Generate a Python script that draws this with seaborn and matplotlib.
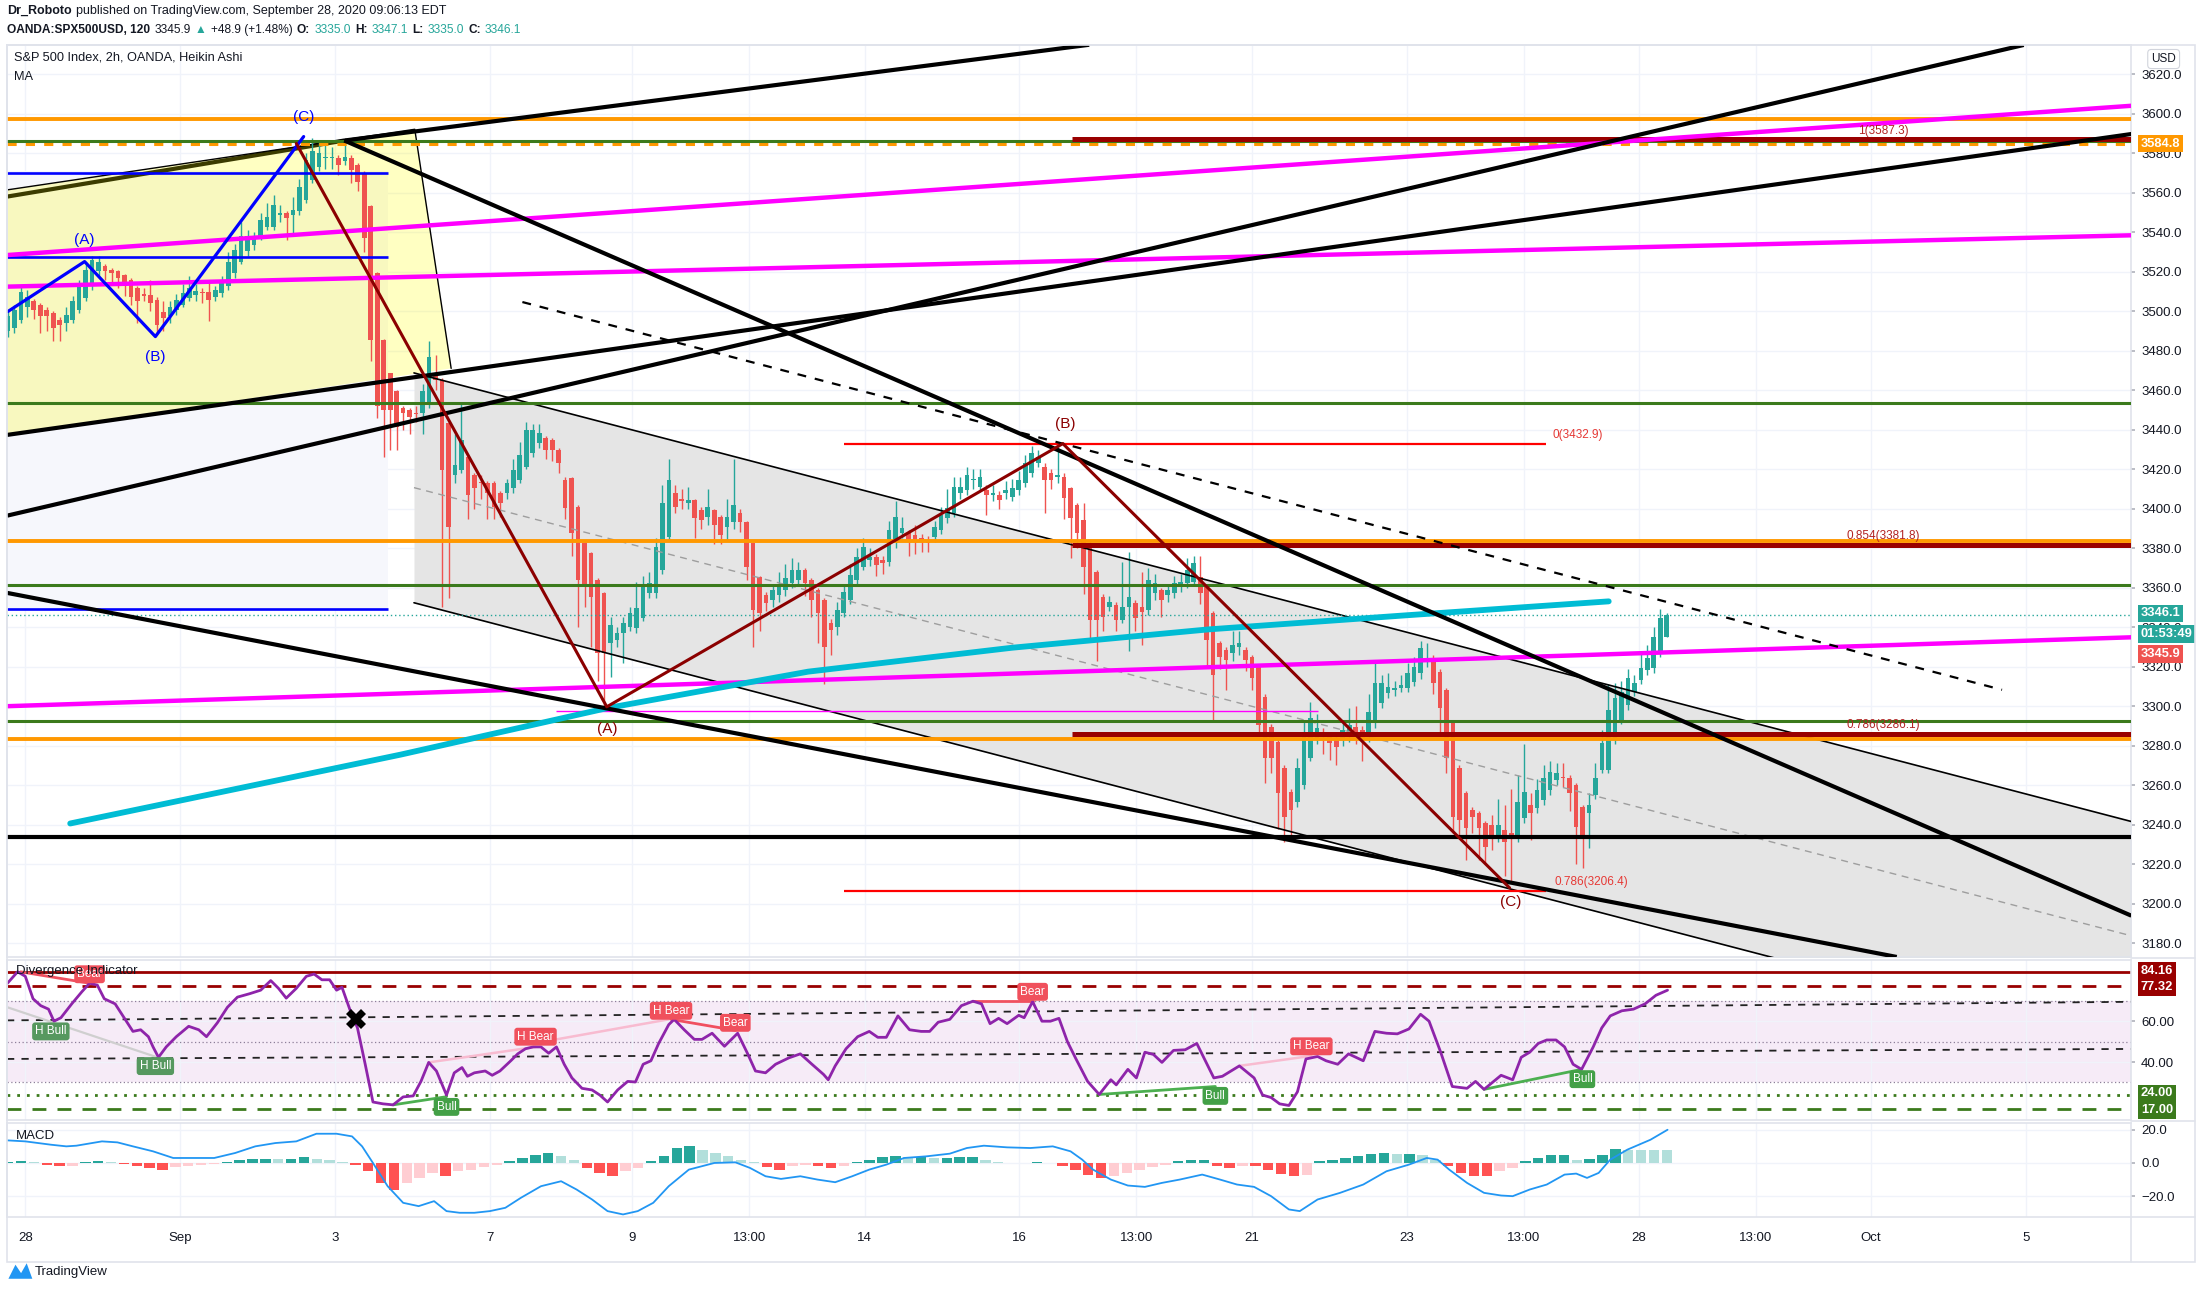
import numpy as np
import matplotlib
matplotlib.use("Agg")
import matplotlib.pyplot as plt
from matplotlib.lines import Line2D
from matplotlib.patches import Rectangle, Polygon
import seaborn as sns

# ---------------- values ----------------
# x unit = trading days, 0 = start of Aug 28 session

# Heikin Ashi candles (2h bars), left edge -> Sep 28 09:00
ha_open = [
    3489.8, 3491.5, 3495.6, 3502.4, 3505.0, 3503.3, 3500.7, 3499.0, 3495.6, 3494.0,
    3495.6, 3500.7, 3506.6, 3513.4, 3520.2, 3522.7, 3521.0, 3520.2, 3518.5, 3515.9,
    3511.7, 3508.3, 3508.3, 3505.8, 3499.9, 3497.4, 3500.7, 3503.3, 3506.6, 3508.3,
    3510.0, 3510.0, 3507.5, 3509.2, 3512.6, 3519.3, 3525.2, 3530.3, 3533.7, 3537.9,
    3542.9, 3542.9, 3548.9, 3549.7, 3548.9, 3550.6, 3556.5, 3566.6, 3573.3, 3577.5,
    3577.5, 3577.5, 3575.9, 3577.5, 3574.2, 3570.0, 3553.1, 3519.3, 3485.5, 3468.6,
    3459.4, 3450.9, 3450.0, 3448.3, 3448.3, 3453.4, 3468.6, 3465.2, 3443.2, 3417.2,
    3419.7, 3426.4, 3417.2, 3413.8,
    3412.9, 3412.9, 3407.8, 3407.8, 3410.3, 3414.5, 3421.3, 3428.1, 3433.1, 3435.6,
    3434.8, 3429.7, 3414.5, 3415.4, 3401.0, 3382.5, 3377.4, 3363.9, 3357.1, 3331.8,
    3333.5, 3336.9, 3340.2, 3339.4, 3344.5, 3357.1, 3357.1, 3368.9, 3385.8, 3407.8,
    3404.1, 3402.7, 3404.4, 3399.3, 3396.0, 3399.3, 3396.0, 3390.9, 3393.4, 3397.7,
    3393.4, 3382.5, 3365.6, 3356.3, 3353.8, 3356.3, 3358.8, 3362.2, 3363.9, 3368.9,
    3363.9, 3358.8, 3353.8, 3341.9, 3340.2, 3347.0, 3353.8, 3363.9, 3370.6, 3374.0,
    3375.7, 3374.0, 3373.2, 3382.5, 3387.5, 3387.5, 3386.7, 3385.0, 3384.1, 3385.8,
    3389.2, 3395.1, 3397.7, 3407.8, 3409.5, 3414.5, 3411.2, 3409.5, 3406.9, 3406.9,
    3407.8, 3406.1, 3409.5, 3412.9, 3417.9, 3423.0, 3421.3, 3417.9, 3416.2, 3416.2,
    3410.3, 3401.9,
    3394.3, 3382.5, 3368.2, 3355.5, 3350.4, 3351.3, 3343.7, 3350.4, 3352.1, 3350.4,
    3348.7, 3357.2, 3358.9, 3356.3, 3357.2, 3360.6, 3362.3, 3363.1, 3365.6, 3360.6,
    3347.1, 3331.9, 3328.5, 3326.8, 3330.2, 3328.5, 3325.1, 3320.0, 3304.8, 3289.6,
    3282.0, 3268.5, 3256.7, 3251.7, 3260.1, 3273.6, 3283.7, 3287.1, 3285.4, 3282.9,
    3282.9, 3284.6, 3289.6, 3287.9, 3284.6, 3291.3, 3301.5, 3306.5, 3308.2, 3309.1,
    3309.1, 3312.4, 3316.7, 3323.4, 3323.4, 3317.5, 3308.2, 3291.3, 3268.5, 3255.9,
    3247.4, 3245.7, 3240.7, 3239.8, 3233.1, 3237.3, 3235.6, 3233.1, 3243.2, 3250.0,
    3248.3, 3252.5, 3257.6, 3262.6, 3264.3, 3263.5, 3260.1, 3249.1, 3245.7, 3255.0,
    3267.7, 3267.7, 3282.9, 3293.0, 3300.6, 3307.4, 3313.3, 3318.4, 3319.2, 3326.8,
    3335.0,
]
ha_close = [
    3497.4, 3500.7, 3510.0, 3507.5, 3500.7, 3497.4, 3497.4, 3491.5, 3493.2, 3498.2,
    3505.0, 3514.3, 3521.0, 3526.0, 3525.2, 3520.2, 3519.3, 3516.8, 3512.6, 3507.5,
    3505.0, 3508.0, 3504.1, 3493.2, 3496.5, 3502.4, 3505.8, 3509.2, 3511.7, 3510.5,
    3509.2, 3505.8, 3510.9, 3515.9, 3525.2, 3531.1, 3537.9, 3537.9, 3537.9, 3546.3,
    3548.0, 3553.9, 3549.7, 3547.2, 3551.4, 3563.2, 3576.7, 3581.0, 3580.1, 3578.4,
    3578.4, 3574.2, 3578.4, 3571.7, 3565.7, 3537.0, 3485.5, 3451.8, 3450.0, 3450.0,
    3441.6, 3448.3, 3446.6, 3448.0, 3459.4, 3477.0, 3465.2, 3419.7, 3391.0, 3422.1,
    3434.9, 3406.9, 3410.3, 3413.0,
    3407.8, 3401.0, 3402.7, 3412.9, 3419.6, 3427.2, 3439.9, 3439.9, 3438.2, 3429.7,
    3429.7, 3423.0, 3400.2, 3387.5, 3363.9, 3360.5, 3355.4, 3326.7, 3326.7, 3341.1,
    3336.9, 3341.9, 3347.0, 3349.5, 3360.5, 3362.2, 3380.8, 3402.7, 3414.5, 3401.0,
    3404.0, 3404.4, 3395.1, 3394.3, 3401.0, 3391.7, 3386.7, 3396.0, 3401.9, 3393.4,
    3370.6, 3348.7, 3347.0, 3352.1, 3358.8, 3361.4, 3364.7, 3368.9, 3368.9, 3362.2,
    3353.8, 3347.0, 3330.1, 3338.6, 3348.7, 3358.0, 3366.4, 3375.7, 3380.8, 3375.7,
    3371.5, 3372.3, 3389.2, 3396.0, 3390.1, 3383.3, 3383.3, 3383.3, 3382.5, 3390.9,
    3396.8, 3400.2, 3411.2, 3411.2, 3417.1, 3414.6, 3416.2, 3406.9, 3407.8, 3404.4,
    3409.5, 3410.3, 3414.5, 3423.0, 3428.1, 3426.4, 3414.5, 3414.5, 3417.1, 3405.3,
    3395.1, 3387.5,
    3370.7, 3343.7, 3343.7, 3345.4, 3353.0, 3343.7, 3350.4, 3355.5, 3344.5, 3347.9,
    3363.9, 3362.3, 3353.8, 3358.9, 3362.3, 3363.1, 3369.0, 3372.4, 3357.2, 3333.5,
    3315.8, 3325.1, 3323.4, 3331.0, 3331.9, 3323.4, 3314.1, 3290.5, 3273.6, 3273.6,
    3255.9, 3244.1, 3247.4, 3268.5, 3287.1, 3293.9, 3288.8, 3285.4, 3281.2, 3279.5,
    3287.9, 3290.5, 3286.3, 3282.9, 3297.2, 3311.6, 3311.6, 3309.9, 3309.1, 3310.8,
    3316.7, 3320.0, 3329.3, 3324.3, 3311.6, 3298.9, 3273.6, 3244.1, 3242.4, 3238.1,
    3244.1, 3238.1, 3228.9, 3233.1, 3239.8, 3231.4, 3233.1, 3251.7, 3256.7, 3245.7,
    3257.6, 3263.5, 3266.9, 3266.0, 3263.5, 3255.9, 3239.0, 3233.1, 3250.0, 3263.5,
    3281.2, 3298.1, 3304.0, 3307.4, 3314.1, 3311.6, 3319.2, 3324.3, 3335.2, 3344.5,
    3346.1,
]
ha_high = [
    3500, 3503, 3513, 3511, 3506, 3504, 3502, 3500, 3497, 3502,
    3508, 3516, 3525, 3528, 3528, 3524, 3522, 3521, 3519, 3517,
    3513, 3512, 3516, 3507, 3505, 3505, 3509, 3514, 3518, 3514,
    3512, 3515, 3513, 3518, 3530, 3534, 3545, 3541, 3540, 3550,
    3555, 3559, 3554, 3551, 3558, 3567, 3580, 3588, 3587, 3584,
    3583, 3579, 3585, 3579, 3575, 3571, 3554, 3520, 3486, 3469,
    3460, 3452, 3451, 3452, 3463, 3485, 3478, 3466, 3444, 3438,
    3454, 3427, 3418, 3417,
    3414, 3414, 3409, 3415, 3425, 3434, 3444, 3443, 3443, 3437,
    3436, 3431, 3416, 3416, 3402, 3383, 3378, 3365, 3358, 3345,
    3340, 3345, 3350, 3363, 3366, 3368, 3385, 3412, 3425, 3412,
    3410, 3411, 3405, 3401, 3410, 3400, 3397, 3405, 3425, 3400,
    3394, 3383, 3366, 3358, 3362, 3368, 3372, 3375, 3373, 3370,
    3365, 3360, 3355, 3344, 3353, 3362, 3372, 3380, 3385, 3380,
    3377, 3376, 3394, 3404, 3396, 3389, 3392, 3387, 3386, 3394,
    3401, 3410, 3416, 3416, 3421, 3420, 3420, 3412, 3412, 3409,
    3414, 3415, 3419, 3427, 3432, 3430, 3423, 3420, 3433, 3418,
    3411, 3403,
    3403, 3384, 3369, 3357, 3356, 3353, 3373, 3378, 3354, 3368,
    3370, 3367, 3360, 3362, 3366, 3367, 3375, 3376, 3376, 3361,
    3348, 3333, 3330, 3338, 3338, 3330, 3326, 3321, 3306, 3291,
    3283, 3270, 3258, 3274, 3292, 3302, 3296, 3289, 3287, 3285,
    3293, 3299, 3300, 3290, 3306, 3322, 3316, 3317, 3313, 3316,
    3322, 3325, 3333, 3332, 3326, 3319, 3309, 3292, 3270, 3257,
    3249, 3247, 3242, 3245, 3253, 3250, 3258, 3265, 3281, 3256,
    3263, 3270, 3272, 3271, 3271, 3265, 3261, 3250, 3256, 3271,
    3288, 3311, 3312, 3313, 3319, 3316, 3327, 3331, 3340, 3349,
    3347.1,
]
ha_low = [
    3487, 3489, 3494, 3497, 3496, 3489, 3490, 3485, 3485, 3490,
    3494, 3499, 3505, 3511, 3518, 3516, 3515, 3512, 3508, 3503,
    3494, 3505, 3500, 3489, 3490, 3494, 3498, 3502, 3505, 3505,
    3504, 3495, 3505, 3507, 3511, 3517, 3524, 3528, 3531, 3536,
    3541, 3541, 3545, 3536, 3539, 3549, 3555, 3565, 3571, 3572,
    3572, 3569, 3574, 3565, 3561, 3530, 3475, 3446, 3426, 3430,
    3430, 3440, 3438, 3444, 3438, 3451, 3460, 3350, 3355, 3413,
    3418, 3395, 3400, 3405,
    3395, 3395, 3396, 3405, 3408, 3413, 3420, 3426, 3431, 3425,
    3424, 3418, 3395, 3376, 3340, 3350, 3330, 3313, 3300, 3315,
    3330, 3322, 3338, 3337, 3343, 3355, 3355, 3367, 3384, 3398,
    3400, 3400, 3385, 3390, 3392, 3382, 3382, 3384, 3390, 3388,
    3364, 3330, 3338, 3348, 3350, 3353, 3356, 3360, 3361, 3356,
    3345, 3332, 3311, 3326, 3336, 3345, 3352, 3362, 3369, 3371,
    3366, 3367, 3371, 3380, 3385, 3376, 3377, 3378, 3378, 3383,
    3387, 3393, 3396, 3405, 3407, 3410, 3409, 3397, 3404, 3400,
    3405, 3404, 3407, 3411, 3416, 3421, 3398, 3410, 3413, 3395,
    3375, 3380,
    3357, 3333, 3323, 3338, 3348, 3338, 3342, 3328, 3338, 3331,
    3346, 3354, 3345, 3353, 3355, 3358, 3360, 3361, 3352, 3320,
    3293, 3319, 3308, 3323, 3326, 3318, 3308, 3285, 3261, 3266,
    3238, 3231, 3233, 3249, 3258, 3272, 3281, 3276, 3273, 3270,
    3280, 3282, 3281, 3272, 3282, 3289, 3299, 3304, 3305, 3307,
    3307, 3310, 3314, 3320, 3306, 3285, 3266, 3236, 3234, 3222,
    3236, 3222, 3220, 3227, 3231, 3214, 3211, 3231, 3241, 3232,
    3246, 3250, 3255, 3260, 3259, 3247, 3220, 3218, 3228, 3253,
    3266, 3266, 3281, 3291, 3298, 3305, 3311, 3316, 3317, 3325,
    3335,
]
first_bar_day, last_bar_day = -0.225, 21.2

# moving average (cyan)
ma_points = [(0.58, 3240.6), (4.85, 3275.5), (7.51, 3299.0), (10.11, 3317.5),
             (12.74, 3329.6), (15.28, 3338.9), (17.82, 3346.0), (20.45, 3353.1)]

# divergence indicator (RSI)
rsi_points = [
    (-0.23, 78.6), (-0.10, 84.2), (0.00, 82.0), (0.10, 71.0), (0.20, 67.6), (0.30, 65.9),
    (0.37, 60.0), (0.46, 61.7), (0.60, 68.5), (0.73, 74.4), (0.83, 78.6), (0.93, 77.7),
    (1.02, 71.0), (1.16, 68.5), (1.26, 62.6), (1.39, 55.0), (1.49, 55.8), (1.59, 52.4),
    (1.65, 47.4), (1.72, 42.3), (1.82, 47.4), (1.95, 52.4), (2.11, 57.5), (2.24, 55.8),
    (2.34, 52.4), (2.48, 59.2), (2.61, 66.8), (2.74, 71.8), (2.90, 73.5), (3.04, 75.2),
    (3.17, 79.9), (3.27, 76.1), (3.37, 71.3), (3.50, 76.1), (3.63, 82.0), (3.73, 83.1),
    (3.83, 80.3), (3.93, 80.3), (4.02, 75.2), (4.09, 76.6), (4.19, 65.9), (4.29, 56.7),
    (4.39, 38.9), (4.49, 20.4), (4.62, 19.5), (4.75, 19.0), (4.88, 22.9), (5.01, 23.4),
    (5.11, 30.5), (5.21, 39.8), (5.31, 35.6), (5.44, 23.8), (5.54, 34.7), (5.64, 37.3),
    (5.71, 33.0), (5.80, 34.7), (5.94, 35.6), (6.03, 33.5), (6.13, 35.6), (6.27, 40.6),
    (6.36, 44.0), (6.46, 46.5), (6.56, 47.4), (6.66, 47.4), (6.76, 44.3), (6.86, 47.4),
    (6.96, 38.9), (7.06, 32.2), (7.19, 27.1), (7.32, 26.3), (7.42, 23.8), (7.52, 20.4),
    (7.65, 26.3), (7.78, 30.5), (7.88, 30.2), (7.98, 38.9), (8.08, 40.6), (8.18, 49.1),
    (8.31, 58.3), (8.38, 60.9), (8.51, 55.8), (8.64, 51.1), (8.74, 51.1), (8.87, 54.1),
    (9.03, 47.7), (9.20, 54.1), (9.33, 44.0), (9.43, 35.6), (9.56, 34.7), (9.69, 38.9),
    (9.86, 42.0), (10.01, 44.0), (10.16, 38.9), (10.31, 33.9), (10.37, 31.3), (10.46, 38.1),
    (10.60, 46.5), (10.75, 52.4), (10.90, 55.0), (11.01, 52.1), (11.12, 52.1), (11.27, 62.6),
    (11.42, 55.8), (11.57, 55.0), (11.68, 55.0), (11.79, 59.5), (11.94, 60.9), (12.09, 67.6),
    (12.24, 69.8), (12.35, 68.5), (12.46, 58.8), (12.57, 61.4), (12.68, 58.8), (12.83, 62.9),
    (12.90, 61.7), (13.01, 69.6), (13.13, 60.0), (13.24, 60.0), (13.35, 61.4), (13.46, 49.9),
    (13.57, 41.5), (13.72, 30.5), (13.87, 24.1), (14.02, 31.3), (14.09, 28.8), (14.24, 36.4),
    (14.35, 32.2), (14.46, 44.8), (14.57, 43.7), (14.68, 39.8), (14.83, 45.7), (14.98, 46.0),
    (15.13, 49.1), (15.24, 40.6), (15.35, 32.2), (15.46, 33.0), (15.68, 38.1), (15.87, 32.2),
    (15.98, 23.8), (16.09, 22.6), (16.20, 19.5), (16.32, 18.7), (16.43, 25.4), (16.54, 41.5),
    (16.69, 42.7), (16.80, 40.6), (16.95, 38.9), (17.09, 44.0), (17.28, 40.6), (17.43, 55.0),
    (17.58, 54.1), (17.72, 53.8), (17.87, 56.2), (18.02, 63.4), (18.13, 60.0), (18.28, 44.8),
    (18.43, 28.0), (18.62, 27.1), (18.73, 30.5), (18.84, 26.6), (19.06, 33.5), (19.21, 31.3),
    (19.32, 42.3), (19.43, 44.8), (19.54, 49.1), (19.65, 50.8), (19.77, 50.8), (19.88, 47.4),
    (19.99, 38.9), (20.10, 36.4), (20.25, 47.4), (20.36, 56.7), (20.47, 62.6), (20.62, 65.1),
    (20.77, 65.9), (20.92, 68.5), (21.06, 72.7), (21.21, 75.2),
]
rsi_upper_line = (84.16, 77.32)
rsi_lower_line = (24.00, 17.00)
rsi_dashed_trends = [((-0.236, 60.4), (27.2, 69.5)), ((-0.236, 41.5), (27.2, 46.4))]
divergence_lines = [
    ("bear", -0.06, 84.2, 0.83, 78.6), ("hbull", -0.23, 66.8, 1.68, 42.6),
    ("bull", 4.75, 19.0, 5.44, 23.0), ("hbear", 5.21, 39.8, 6.59, 47.4),
    ("hbear", 6.86, 51.1, 8.31, 60.9), ("bear", 8.34, 60.9, 9.17, 55.5),
    ("bear", 12.24, 69.8, 13.01, 69.8), ("bull", 13.87, 24.1, 15.37, 28.0),
    ("hbear", 15.68, 38.1, 16.61, 43.0), ("bull", 18.84, 26.6, 20.10, 36.4),
]
divergence_labels = [
    ("Bear", 0.83, 83.0), ("H Bull", 0.33, 55.0), ("H Bull", 1.68, 38.0), ("Bull", 5.44, 18.0),
    ("H Bear", 6.59, 52.4), ("H Bear", 8.34, 65.1), ("Bear", 9.17, 59.2), ("Bear", 13.01, 74.4),
    ("Bull", 15.37, 23.4), ("H Bear", 16.61, 47.7), ("Bull", 20.11, 31.6),
]
cross_point = (4.27, 61.0)

# MACD
macd_points = [
    (-0.23, 13.6), (0.00, 13.0), (0.33, 11.0), (0.53, 10.0), (0.66, 10.4), (0.99, 13.0),
    (1.19, 12.4), (1.39, 10.0), (1.65, 7.0), (1.91, 3.0), (2.18, 3.0), (2.44, 3.0),
    (2.71, 6.0), (2.97, 10.0), (3.23, 12.0), (3.50, 13.0), (3.76, 17.6), (4.02, 17.6),
    (4.22, 16.0), (4.35, 10.0), (4.49, 0.0), (4.68, -14.0), (4.88, -24.0), (5.08, -26.0),
    (5.28, -23.0), (5.44, -29.0), (5.61, -30.0), (5.80, -30.0), (6.00, -29.0), (6.20, -27.0),
    (6.40, -21.0), (6.66, -14.0), (6.92, -11.0), (7.12, -16.0), (7.32, -22.0), (7.52, -29.0),
    (7.72, -31.0), (7.91, -29.0), (8.11, -24.0), (8.31, -14.0), (8.57, -4.0), (8.90, 0.0),
    (9.17, 0.4), (9.36, -3.0), (9.56, -8.0), (9.76, -9.6), (10.01, -8.0), (10.23, -10.0),
    (10.46, -11.6), (10.68, -8.0), (10.90, -4.0), (11.12, -1.0), (11.35, 3.0), (11.64, 4.0),
    (11.94, 5.6), (12.16, 9.0), (12.38, 10.4), (12.68, 9.4), (12.98, 9.0), (13.27, 10.0),
    (13.50, 7.0), (13.65, 2.0), (13.79, -4.0), (14.02, -10.0), (14.24, -13.6), (14.46, -14.4),
    (14.68, -12.0), (14.91, -10.0), (15.20, -7.0), (15.43, -10.0), (15.65, -13.0), (15.87, -14.4),
    (16.09, -20.0), (16.32, -28.0), (16.46, -29.0), (16.69, -22.0), (16.98, -18.0), (17.28, -13.0),
    (17.58, -5.0), (17.87, -1.0), (18.10, 3.0), (18.24, 2.0), (18.39, -4.0), (18.62, -12.0),
    (18.84, -18.0), (19.06, -19.6), (19.21, -20.0), (19.43, -16.0), (19.65, -13.0), (19.88, -7.0),
    (20.03, -6.4), (20.17, -9.0), (20.32, -6.0), (20.47, 2.0), (20.69, 8.0), (20.99, 14.0),
    (21.21, 20.0),
]
macd_hist = [
    0.6, 1.0, 0.4, -1.2, -2.0, -1.6, 0.6, 1.0, 0.6, -0.8,
    -2.0, -3.0, -4.0, -2.5, -2.0, -1.4, -0.8, 0.6, 1.5, 2.2,
    2.6, 2.4, 2.6, 3.4, 2.4, 1.6, 0.8, -1.0, -5.0, -12.0,
    -16.0, -12.0, -9.0, -6.0, -8.0, -5.0, -4.0, -2.5, -1.2, 1.0,
    3.0, 5.0, 6.0, 4.0, 1.5, -3.0, -6.0, -8.0, -5.0, -3.0,
    1.0, 4.0, 9.0, 10.0, 8.0, 6.0, 4.0, 2.0, 0.5, -2.5,
    -4.0, -2.0, -1.0,
    -2.0, -3.0, -2.0, 0.5, 2.0, 3.5, 4.0, 3.5, 3.5, 3.0,
    3.0, 3.5, 3.5, 1.5, 0.8, 0.2, 0.2, 0.6, 0.2, -2.0,
    -4.5, -7.0, -9.0, -8.0, -6.0, -4.0, -2.5, -1.0, 1.0, 2.0,
    2.0, -2.0, -3.0, -2.0, -2.0, -4.0, -6.5, -8.0, -7.5, 1.0,
    2.0, 3.0, 4.0, 5.5, 6.0, 5.5, 5.5, 4.5, 2.0, -2.0,
    -6.0, -8.0, -8.0, -5.0, -3.0, 1.0, 3.0, 4.5, 4.5, 2.0,
    2.5, 5.0, 8.3, 8.1, 8.0, 7.9, 7.8,
]

# time axis
tick_days = [0, 2, 4, 6, 7.84, 9.35, 10.84, 12.84, 14.35, 15.84, 17.84, 19.35, 20.84, 22.35, 23.84, 25.84]
tick_labels = ["28", "Sep", "3", "7", "9", "13:00", "14", "16", "13:00", "21", "23", "13:00", "28", "13:00", "Oct", "5"]
price_ticks = list(range(3180, 3621, 20))

# drawings on the price pane (day, price)
orange_levels = [3597.5, 3383.5, 3283.5]
orange_dashed_level = 3584.8
green_levels = [3586.2, 3453.8, 3361.2, 3292.5]
black_level = 3234.0
last_price = 3346.1
blue_levels = [3570.0, 3527.7, 3349.0]
blue_span = (-0.236, 4.68)
fib_top = [("1(3587.3)", 3587.3), ("0.854(3381.8)", 3381.8), ("0.786(3286.1)", 3286.1)]
fib_top_span = (13.52, 27.2)
fib_low = [("0(3432.9)", 3432.9), ("0.786(3206.4)", 3206.4)]
fib_low_span = (10.58, 19.64)
thin_magenta = (3297.5, 6.85, 16.69)

black_trends = [((4.12, 3586.5), (13.74, 3635.0)),
                ((-0.236, 3437.4), (27.2, 3589.8)),
                ((-0.236, 3396.5), (25.81, 3634.9)),
                ((4.12, 3586.5), (27.2, 3193.9)),
                ((-0.236, 3357.4), (24.17, 3173.0))]
hidden_trend = ((-0.236, 3558.1), (4.12, 3586.5))
magenta_trends = [((-0.234, 3528.5), (27.2, 3604.1)),
                  ((-0.234, 3512.5), (27.2, 3538.5)),
                  ((-0.236, 3300.0), (27.2, 3334.9))]
dashed_trend = ((6.42, 3504.7), (25.53, 3308.3))
channel_days = [5.02, 27.2]
channel_upper = [3468.8, 3241.6]
channel_mid = [3410.7, 3183.7]
channel_lower = [3352.4, 3125.3]
yellow_days = [-0.234, 5.03, 5.50, -0.234]
yellow_prices = [3561.5, 3592.2, 3471.1, 3437.4]
pale_box = (-0.236, 4.68, 3349.0, 3571.0)

blue_wave_days = [-0.225, 0.766, 1.68, 3.595]
blue_wave_prices = [3499.9, 3525.2, 3487.2, 3588.5]
red_wave_days = [3.50, 7.51, 13.40, 19.17]
red_wave_prices = [3585.0, 3299.7, 3433.0, 3208.0]
blue_wave_labels = [("(A)", 0.766, 3536.0), ("(B)", 1.68, 3477.0), ("(C)", 3.59, 3598.6)]
red_wave_labels = [("(A)", 7.51, 3288.3), ("(B)", 13.43, 3442.8), ("(C)", 19.18, 3200.8)]

# ---------------- styling ----------------
UP, DOWN = "#26a69a", "#ef5350"
ORANGE, GREEN, MAROON = "#ff9800", "#3b7a1c", "#990000"
MAGENTA, CYAN, BLUE = "#ff00ff", "#00bcd4", "#0000ff"
TEXT, BORDER, GRID = "#131722", "#e0e3eb", "#f0f3fa"
W, H = 1568.0, 918.0   # layout measured on the reference at this scale


def frac_box(x0, y0, x1, y1):
    return [x0 / W, 1 - y1 / H, (x1 - x0) / W, (y1 - y0) / H]


sns.set_theme(style="white")
plt.rcParams["font.family"] = ["Liberation Sans", "DejaVu Sans"]

fig = plt.figure(figsize=(22.03, 12.90), dpi=100)
fig.patch.set_facecolor("white")

ax = fig.add_axes(frac_box(5, 32, 1517, 681))
ax2 = fig.add_axes(frac_box(5, 683, 1517, 797), sharex=ax)
ax3 = fig.add_axes(frac_box(5, 799, 1517, 866), sharex=ax)

for a in (ax, ax2, ax3):
    a.set_facecolor("white")
    for s in a.spines.values():
        s.set_color(BORDER)
        s.set_linewidth(1.2)
    a.yaxis.tick_right()
    a.grid(True, color=GRID, lw=1.0, zorder=0)
    a.tick_params(axis="x", length=0)
    a.tick_params(axis="y", length=3, color="#b2b5be", pad=4, labelsize=9.5, labelcolor=TEXT)

# ---------------- price pane ----------------
xl = (-0.236, 27.2)

# background shapes
ax.add_patch(Rectangle((pale_box[0], pale_box[2]), pale_box[1] - pale_box[0], pale_box[3] - pale_box[2],
                       facecolor="#f6f7fc", edgecolor="none", zorder=0.8))
ax.fill_between(channel_days, channel_upper, channel_lower, color="#e5e5e5", lw=0, zorder=0.9)
ax.plot([hidden_trend[0][0], hidden_trend[1][0]], [hidden_trend[0][1], hidden_trend[1][1]],
        color="black", lw=3.0, zorder=1.0, solid_capstyle="butt")
ax.fill(yellow_days, yellow_prices, color="#ffff00", alpha=0.24, lw=0, zorder=1.2)
ax.plot(yellow_days[:3], yellow_prices[:3], color="black", lw=1.0, zorder=1.3)

# candles
bar_days = np.linspace(first_bar_day, last_bar_day, len(ha_open))
o = np.array(ha_open)
c = np.array(ha_close)
cols = np.where(c >= o, UP, DOWN)
ax.vlines(bar_days, ha_low, ha_high, colors=cols, lw=1.0, zorder=3)
ax.bar(bar_days, np.maximum(np.abs(c - o), 0.7), bottom=np.minimum(o, c), width=0.06,
       color=cols, linewidth=0, zorder=3)

# channel lines
ax.plot(channel_days, channel_upper, color="black", lw=1.2, zorder=4)
ax.plot(channel_days, channel_lower, color="black", lw=1.2, zorder=4)
ax.plot(channel_days, channel_mid, color="#9e9e9e", lw=1.0, ls=(0, (5, 4)), zorder=4)

# horizontal levels
for lv in orange_levels:
    ax.axhline(lv, color=ORANGE, lw=2.8, zorder=4)
ax.axhline(orange_dashed_level, color=ORANGE, lw=2.2, ls=(0, (3, 3)), zorder=4)
for lv in green_levels:
    ax.axhline(lv, color=GREEN, lw=2.2, zorder=4.1)
ax.axhline(black_level, color="black", lw=3.0, zorder=4)
ax.axhline(last_price, color=UP, lw=1.0, ls=(0, (1, 2)), zorder=4)
for lv in blue_levels:
    ax.hlines(lv, *blue_span, color=BLUE, lw=1.9, zorder=4)
ax.hlines(thin_magenta[0], thin_magenta[1], thin_magenta[2], color=MAGENTA, lw=1.0, zorder=4)

for txt, lv in fib_top:
    ax.hlines(lv, *fib_top_span, color=MAROON, lw=3.6, zorder=4.2)
for txt, lv in fib_low:
    ax.hlines(lv, *fib_low_span, color="#ff0000", lw=1.6, zorder=4.2)
ax.text(23.67, 3591.5, fib_top[0][0], color="#b22222", fontsize=8.5, va="center", zorder=6)
ax.text(23.52, 3386.4, fib_top[1][0], color="#b22222", fontsize=8.5, va="center", zorder=6)
ax.text(23.52, 3290.4, fib_top[2][0], color="#b22222", fontsize=8.5, va="center", zorder=6)
ax.text(19.73, 3437.2, fib_low[0][0], color="#e53935", fontsize=8.5, va="center", zorder=6)
ax.text(19.75, 3211.2, fib_low[1][0], color="#e53935", fontsize=8.5, va="center", zorder=6)

# trend lines
for (d1, p1), (d2, p2) in magenta_trends:
    ax.plot([d1, d2], [p1, p2], color=MAGENTA, lw=3.2, zorder=4.3, solid_capstyle="butt")
for (d1, p1), (d2, p2) in black_trends:
    ax.plot([d1, d2], [p1, p2], color="black", lw=3.0, zorder=4.5, solid_capstyle="butt")
(d1, p1), (d2, p2) = dashed_trend
ax.plot([d1, d2], [p1, p2], color="black", lw=1.6, ls=(0, (4, 4)), zorder=4.5)

# moving average
ma_day, ma_val = zip(*ma_points)
sns.lineplot(x=list(ma_day), y=list(ma_val), ax=ax, color=CYAN, lw=4.2, zorder=4.4)

# waves
ax.plot(blue_wave_days, blue_wave_prices, color=BLUE, lw=2.3, zorder=5)
ax.plot(red_wave_days, red_wave_prices, color="#8b0000", lw=2.2, zorder=5)
for txt, d, p in blue_wave_labels:
    ax.text(d, p, txt, color=BLUE, fontsize=11, ha="center", va="center", zorder=6)
for txt, d, p in red_wave_labels:
    ax.text(d, p, txt, color="#8b0000", fontsize=11, ha="center", va="center", zorder=6)

ax.set_xlim(*xl)
ax.set_ylim(3173.0, 3634.9)
ax.set_yticks(price_ticks)
ax.set_yticklabels([f"{p:.1f}" for p in price_ticks])
ax.set_xlabel("")
ax.set_ylabel("")


def tag(a, y, text, fc, size=9.3):
    a.text(1.0045, y, text, transform=a.get_yaxis_transform(), color="white", fontsize=size,
           fontweight="bold", ha="left", va="center", zorder=10, clip_on=False,
           bbox=dict(boxstyle="square,pad=0.2", fc=fc, ec="none"))


tag(ax, 3584.8, "3584.8", ORANGE)
tag(ax, 3347.0, "3346.1", UP)
tag(ax, 3336.6, "01:53:49", UP)
tag(ax, 3326.4, "3345.9", DOWN)

# ---------------- divergence indicator pane ----------------
ax2.axhspan(30, 70, color="#9c27b0", alpha=0.09, lw=0, zorder=0.5)
for lv in (70, 50, 30):
    ax2.axhline(lv, color="#8d7f99", lw=0.9, ls=(0, (1, 2)), zorder=1)
ax2.axhline(rsi_upper_line[0], color=MAROON, lw=2.0, zorder=2)
ax2.axhline(rsi_upper_line[1], color=MAROON, lw=2.0, ls=(0, (5, 4)), zorder=2)
ax2.axhline(rsi_lower_line[0], color=GREEN, lw=2.0, ls=(0, (1, 2.5)), zorder=2)
ax2.axhline(rsi_lower_line[1], color=GREEN, lw=2.0, ls=(0, (5, 4)), zorder=2)
for (d1, v1), (d2, v2) in rsi_dashed_trends:
    ax2.plot([d1, d2], [v1, v2], color="#222222", lw=1.3, ls=(0, (4, 4)), zorder=2)

div_style = {"bear": ("#f05060", 2.0), "bull": ("#4caf50", 2.0),
             "hbull": ("#cfcfcf", 1.6), "hbear": ("#f8bbd0", 1.8)}
for kind, d1, v1, d2, v2 in divergence_lines:
    col, lw = div_style[kind]
    ax2.plot([d1, d2], [v1, v2], color=col, lw=lw, zorder=2.5)

rsi_day, rsi_val = zip(*rsi_points)
sns.lineplot(x=list(rsi_day), y=list(rsi_val), ax=ax2, color="#8e24aa", lw=2.0, zorder=3)

for txt, d, v in divergence_labels:
    fc = "#f0505c" if "Bear" in txt else ("#56985f" if txt.startswith("H") else "#43a047")
    ax2.text(d, v, txt, color="white", fontsize=8.5, ha="center", va="center", zorder=5,
             bbox=dict(boxstyle="round,pad=0.25", fc=fc, ec="none"))
ax2.plot(*cross_point, marker="X", color="black", markersize=15, zorder=6, markeredgewidth=0)

ax2.set_ylim(11.6, 90.1)
ax2.set_yticks([60, 40])
ax2.set_yticklabels(["60.00", "40.00"])
ax2.set_xlabel("")
ax2.set_ylabel("")
tag(ax2, 84.16 + 0.6, "84.16", MAROON)
tag(ax2, 77.32 - 0.6, "77.32", MAROON)
tag(ax2, 24.0 + 0.6, "24.00", GREEN)
tag(ax2, 17.0 - 0.6, "17.00", GREEN)
ax2.text(0.004, 0.93, "Divergence Indicator", transform=ax2.transAxes, color=TEXT,
         fontsize=9.5, va="center", ha="left", zorder=7)

# ---------------- MACD pane ----------------
hist_days = np.linspace(-0.22, 21.2, len(macd_hist))
hist = np.array(macd_hist)
prev = np.concatenate([[0.0], hist[:-1]])
hcols = np.where(hist >= 0, np.where(hist >= prev, "#26a69a", "#b2dfdb"),
                 np.where(hist <= prev, "#ff5252", "#ffcdd2"))
ax3.bar(hist_days, hist, width=0.135, color=hcols, linewidth=0, zorder=2)
macd_day, macd_val = zip(*macd_points)
sns.lineplot(x=list(macd_day), y=list(macd_val), ax=ax3, color="#2196f3", lw=1.3, zorder=3)
ax3.set_ylim(-32.5, 24.2)
ax3.set_yticks([20, 0, -20])
ax3.set_yticklabels(["20.0", "0.0", "\u221220.0"])
ax3.set_xlabel("")
ax3.set_ylabel("")
ax3.text(0.004, 0.86, "MACD", transform=ax3.transAxes, color=TEXT, fontsize=9.5,
         va="center", ha="left", zorder=7)

ax3.set_xticks(tick_days)
ax3.set_xticklabels(tick_labels)
ax3.set_xlim(*xl)
ax3.tick_params(axis="x", labelsize=9.5, labelcolor=TEXT, pad=11)
ax.tick_params(axis="x", labelbottom=False)
ax2.tick_params(axis="x", labelbottom=False)

# ---------------- frame and texts ----------------
fig.add_artist(Rectangle((5 / W, 1 - 898 / H), (1562 - 5) / W, (898 - 32) / H,
                         transform=fig.transFigure, fill=False, ec=BORDER, lw=1.2))
fig.add_artist(Line2D([1517 / W, 1517 / W], [1 - 898 / H, 1 - 866 / H],
                      transform=fig.transFigure, color=BORDER, lw=1.2))
for yy in (682, 798, 866):
    fig.add_artist(Line2D([1517 / W, 1562 / W], [1 - yy / H, 1 - yy / H],
                          transform=fig.transFigure, color=BORDER, lw=1.2))

fig.text(1540 / W, 1 - 42 / H, "USD", fontsize=8.5, color=TEXT, ha="center", va="center",
         bbox=dict(boxstyle="round,pad=0.3", fc="white", ec="#d1d4dc", lw=0.8))

renderer = fig.canvas.get_renderer()


def write_run(x, y, parts, size):
    for txt, col, wt in parts:
        t = fig.text(x, y, txt, color=col, fontsize=size, fontweight=wt, ha="left", va="center")
        bb = t.get_window_extent(renderer=renderer)
        x = bb.x1 / fig.bbox.width + 0.0019


write_run(5 / W, 1 - 8 / H, [("Dr_Roboto", TEXT, "bold"),
                             ("published on TradingView.com, September 28, 2020 09:06:13 EDT", TEXT, "normal")], 9.0)
write_run(5 / W, 1 - 21 / H, [("OANDA:SPX500USD, 120", TEXT, "bold"), ("3345.9", TEXT, "normal"),
                              ("\u25b2", UP, "normal"), ("+48.9 (+1.48%)", TEXT, "normal"),
                              ("O:", TEXT, "bold"), ("3335.0", UP, "normal"),
                              ("H:", TEXT, "bold"), ("3347.1", UP, "normal"),
                              ("L:", TEXT, "bold"), ("3335.0", UP, "normal"),
                              ("C:", TEXT, "bold"), ("3346.1", UP, "normal")], 8.6)
fig.text(10 / W, 1 - 41 / H, "S&P 500 Index, 2h, OANDA, Heikin Ashi", fontsize=9.2, color=TEXT,
         ha="left", va="center")
fig.text(10 / W, 1 - 55 / H, "MA", fontsize=9.2, color=TEXT, ha="left", va="center")

fig.add_artist(Polygon([(6 / W, 1 - 910 / H), (11 / W, 1 - 900 / H), (15 / W, 1 - 906 / H),
                        (19 / W, 1 - 899 / H), (23 / W, 1 - 910 / H)],
                       closed=True, transform=fig.transFigure, fc="#2196f3", ec="none"))
fig.text(25 / W, 1 - 905 / H, "TradingView", fontsize=9.5, color=TEXT, ha="left", va="center")

fig.savefig("out.png", dpi=100, facecolor="white")
